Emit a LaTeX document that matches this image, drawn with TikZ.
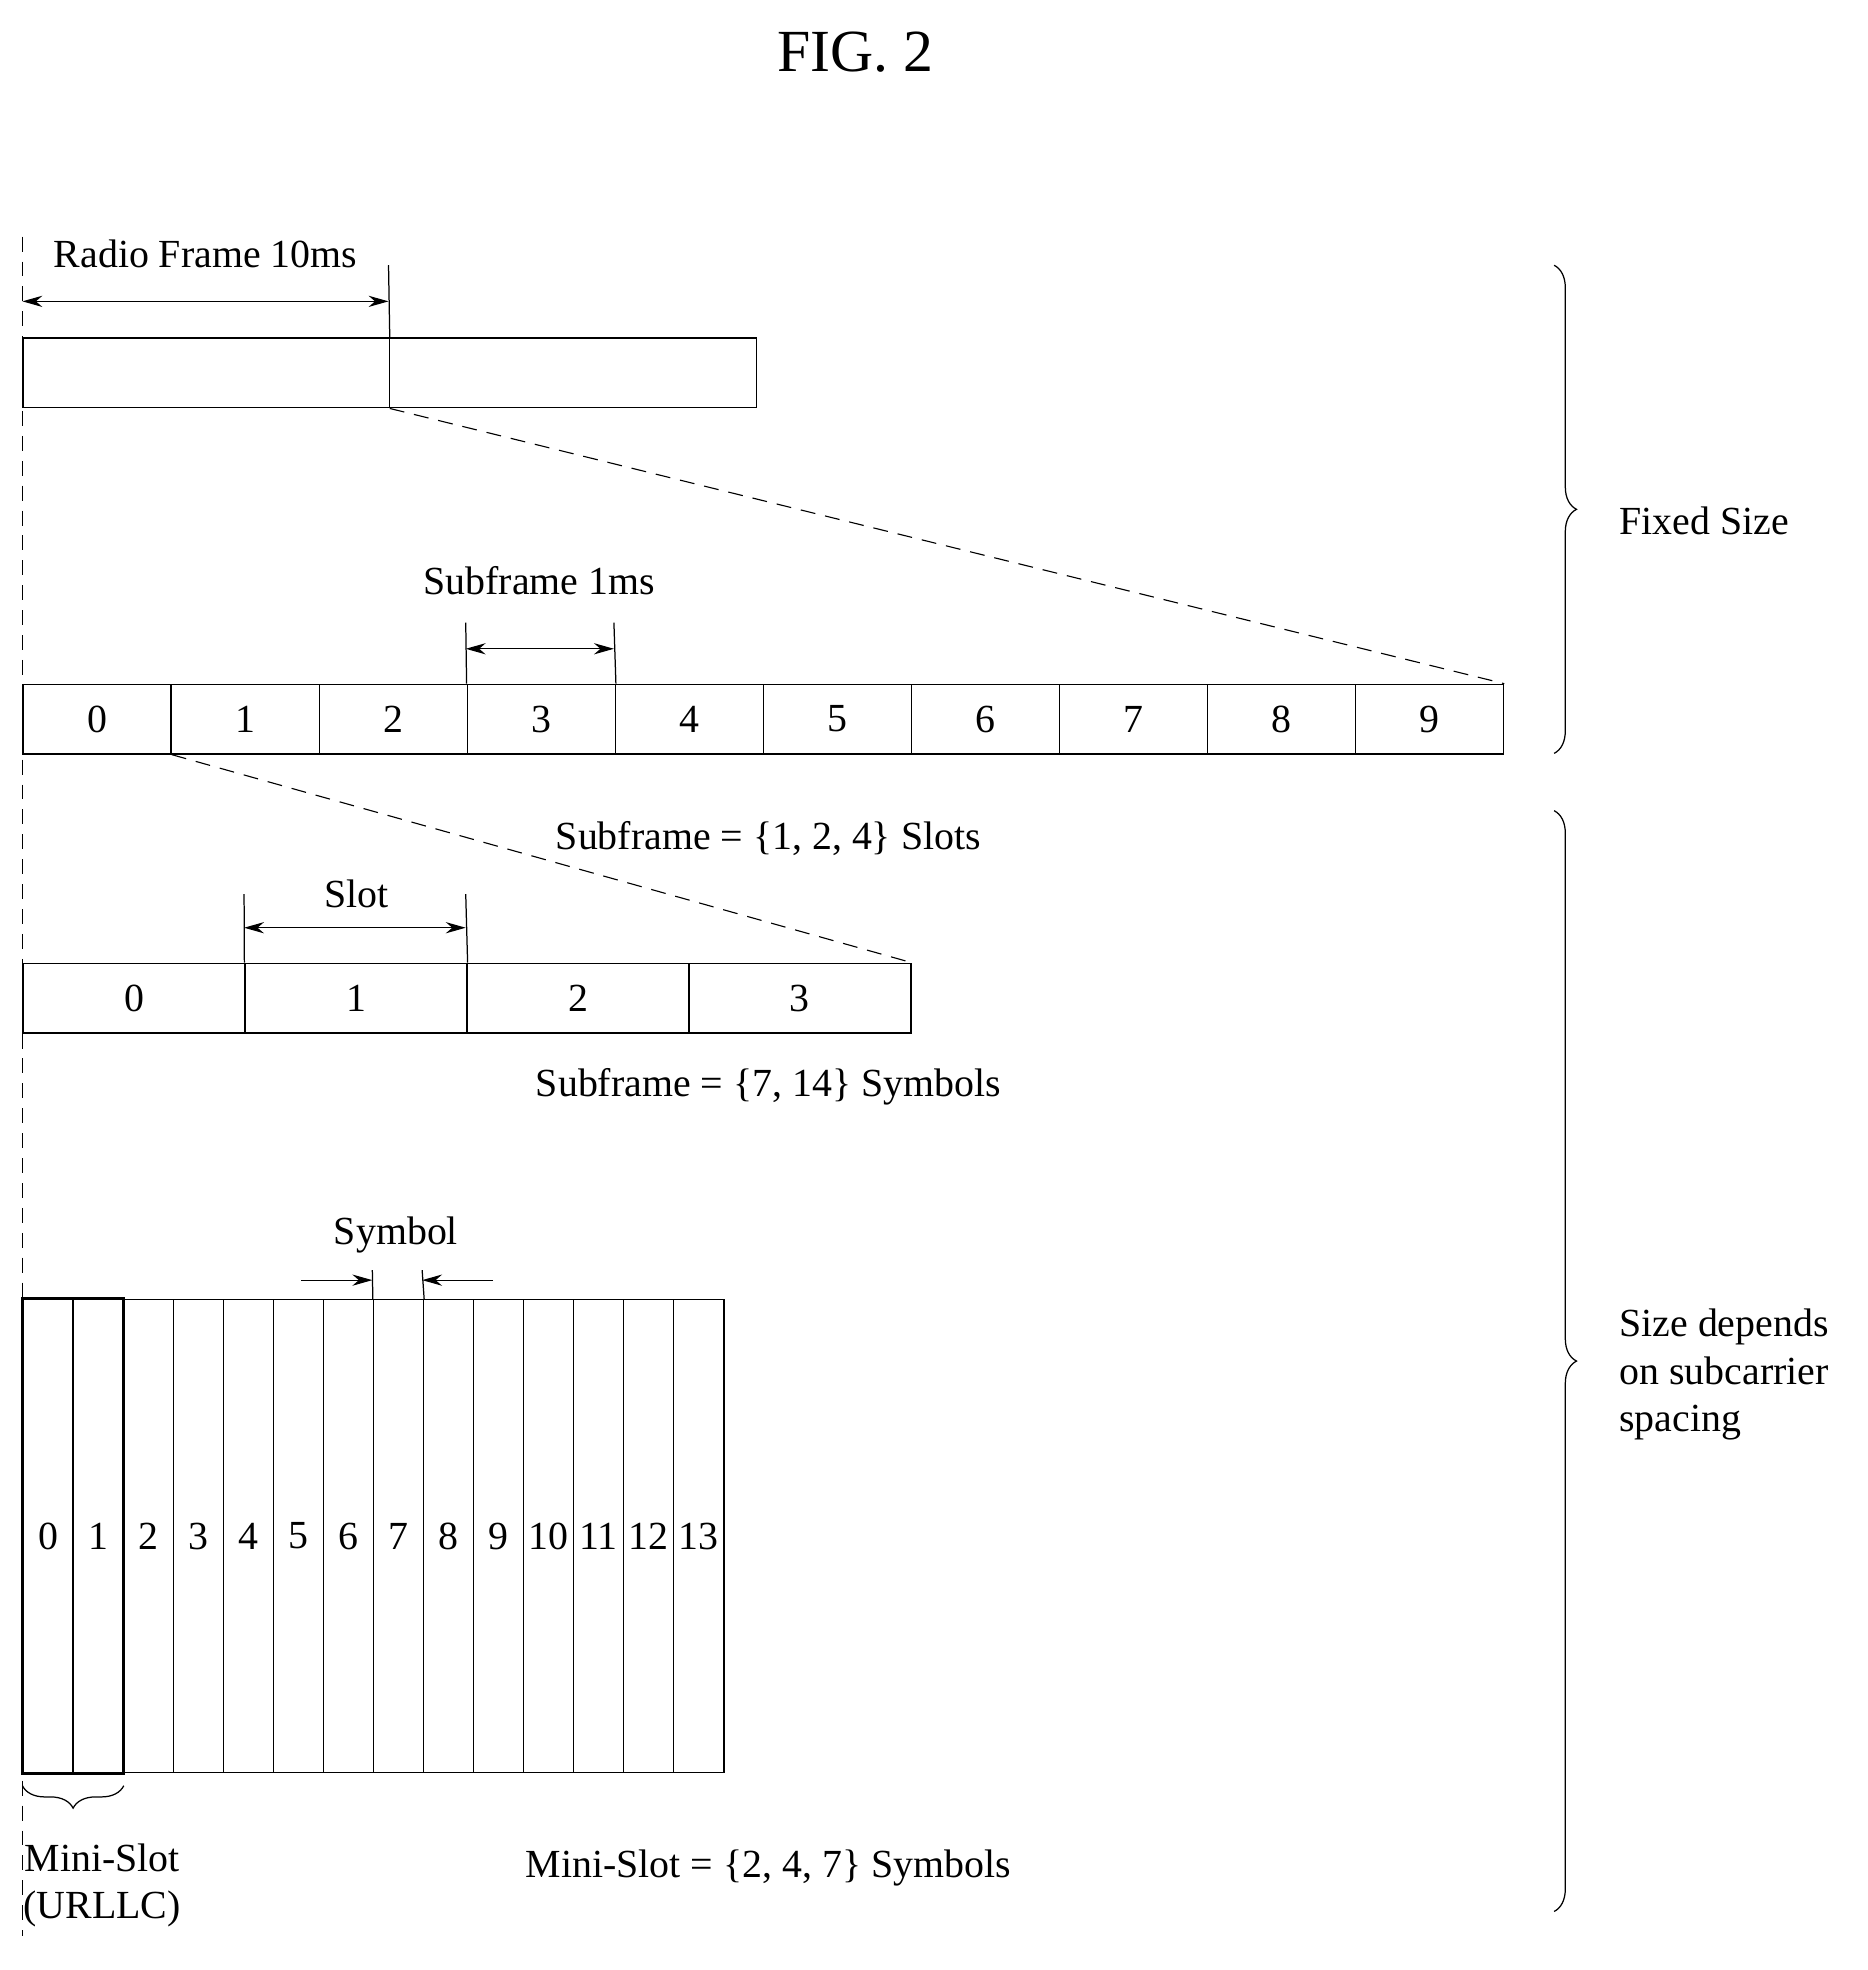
\documentclass[tikz,border=0pt]{standalone}
\usepackage{fontspec}
\setmainfont{Liberation Serif}
\usetikzlibrary{arrows.meta,decorations.pathreplacing}
\begin{document}
\begin{tikzpicture}[x=1pt,y=-1pt,line width=1pt,
  lbl/.style={font=\fontsize{32}{38}\selectfont,inner sep=0pt},
  cell/.style={draw,minimum height=56pt,inner sep=0pt,anchor=north west,font=\fontsize{32}{38}\selectfont},
  dim/.style={-{Stealth[length=16pt,width=9pt]}},
  ddim/.style={{Stealth[length=16pt,width=9pt]}-{Stealth[length=16pt,width=9pt]}},
  dsh/.style={dash pattern=on 12pt off 8pt,line width=0.9pt},
  brc/.style={decorate,decoration={brace,amplitude=18pt}}]
\useasboundingbox (0,0) rectangle (1500,1582);
\node[font=\fontsize{48}{56}\selectfont] (title) at (687,42) {FIG. 2};
% radio frame
\coordinate (dtop) at (18,190); \coordinate (dbot) at (18,1555);
\draw[dsh] (dtop) -- (dbot);
\node[cell,minimum width=294pt] (rf1) at (18,271) {};
\node[cell,minimum width=295pt] (rf2) at (312,271) {};
\coordinate (t1) at (312,213);
\draw (t1) -- (rf1.north east);
\draw[ddim] (18,242) -- (312,242);
\node[lbl] (rflbl) at (165,204) {Radio Frame 10ms};
% subframes
\foreach \i in {0,...,9}{
  \node[cell,minimum width=118.9pt] (sf\i) at ({18+118.9*\i},549) {\i};}
\draw[dsh] (rf1.south east) -- (sf9.north east);
\node[lbl] (sflbl) at (433,466) {Subframe 1ms};
\coordinate (t2) at (374,500); \coordinate (t3) at (493,500);
\draw (t2) -- (sf3.north west); \draw (t3) -- (sf3.north east);
\draw[ddim] (374,521) -- (493,521);
% slots
\foreach \i in {0,...,3}{
  \node[cell,minimum width=178.25pt] (sl\i) at ({18+178.25*\i},773) {\i};}
\draw[dsh] (sf0.south east) -- (sl3.north east);
\node[lbl] (eq1) at (617,673) {Subframe = \{1, 2, 4\} Slots};
\node[lbl] (sllbl) at (286,718) {Slot};
\coordinate (t4) at (196,718); \coordinate (t5) at (374,718);
\draw (t4) -- (sl1.north west); \draw (t5) -- (sl1.north east);
\draw[ddim] (196,745) -- (374,745);
\node[lbl] (eq2) at (617,873) {Subframe = \{7, 14\} Symbols};
% symbols
\foreach \i in {0,...,13}{
  \node[cell,minimum width=40.2pt,minimum height=380pt] (sy\i) at ({18+40.2*\i},1043) {\i};}
\draw[line width=2.2pt] (sy0.north west) rectangle (sy1.south east);
\node[lbl] (sylbl) at (318,992) {Symbol};
\coordinate (t6) at (299,1020); \coordinate (t7) at (339,1020);
\draw (t6) -- (sy7.north west); \draw (t7) -- (sy7.north east);
\coordinate (a1) at (242,1028); \coordinate (a2) at (396,1028);
\draw[dim] (a1) -- (299,1028); \draw[dim] (a2) -- (339,1028);
\draw[brc] ([yshift=-10pt]sy1.south east) -- ([yshift=-10pt]sy0.south west);
\node[lbl,align=center] (ms) at (82,1514) {Mini-Slot\\(URLLC)};
\node[lbl] (eq3) at (617,1500) {Mini-Slot = \{2, 4, 7\} Symbols};
% right braces
\draw[brc] (1248,213) -- (1248,605);
\node[lbl,anchor=west] (fs) at (1300,418) {Fixed Size};
\draw[brc] (1248,651) -- (1248,1535);
\node[lbl,anchor=west,align=left] (sd) at (1300,1104) {Size depends\\on subcarrier\\spacing};
\end{tikzpicture}
\end{document}
